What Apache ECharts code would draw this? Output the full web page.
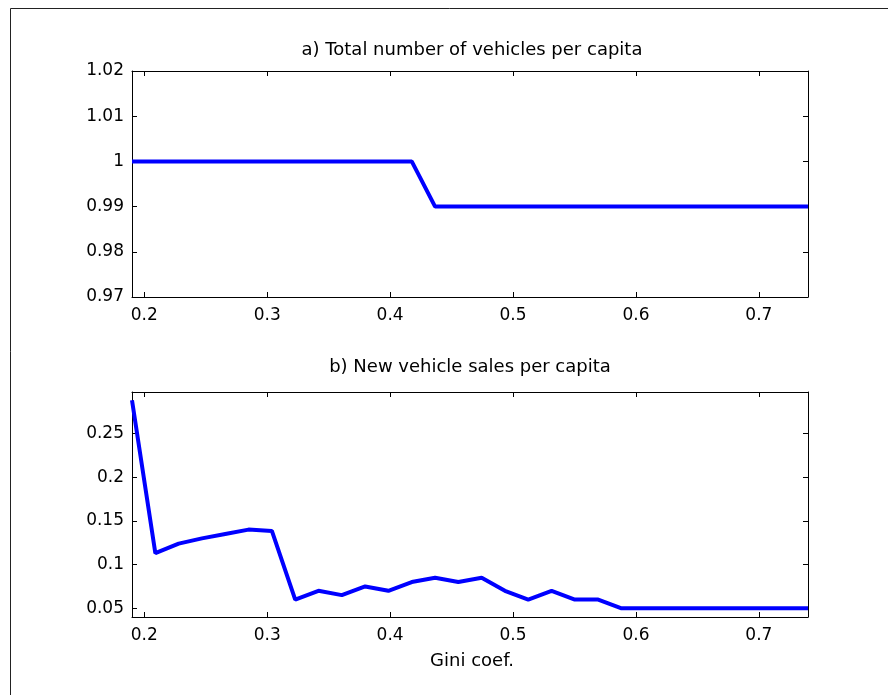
<!DOCTYPE html>
<html>
<head>
<meta charset="utf-8">
<script src="https://cdn.jsdelivr.net/npm/echarts@6/dist/echarts.min.js"></script>
<style>html,body{margin:0;padding:0;background:#fff}#c{width:888px;height:695px}</style>
</head>
<body>
<div id="c"></div>
<script>
// Gini coefficient grid (x values)
var gini = [0.19, 0.209, 0.228, 0.2469, 0.2659, 0.2848, 0.3038, 0.3228, 0.3417, 0.3607,
            0.3797, 0.3986, 0.4176, 0.4366, 0.4555, 0.4745, 0.4934, 0.5124, 0.5314, 0.5503,
            0.5693, 0.5883, 0.6072, 0.6262, 0.6452, 0.6641, 0.6831, 0.7021, 0.721, 0.74];
// a) Total number of vehicles per capita
var totalVehicles = [1, 1, 1, 1, 1, 1, 1, 1, 1, 1, 1, 1, 1,
                     0.99, 0.99, 0.99, 0.99, 0.99, 0.99, 0.99, 0.99, 0.99, 0.99,
                     0.99, 0.99, 0.99, 0.99, 0.99, 0.99, 0.99];
// b) New vehicle sales per capita
var newSales = [0.288, 0.113, 0.124, 0.130, 0.135, 0.140, 0.1385, 0.060, 0.070, 0.065,
                0.075, 0.070, 0.080, 0.085, 0.080, 0.085, 0.070, 0.060, 0.070, 0.060,
                0.060, 0.050, 0.050, 0.050, 0.050, 0.050, 0.050, 0.050, 0.050, 0.050];
var xTicks = [0.2, 0.3, 0.4, 0.5, 0.6, 0.7];
var yTicksTop = [0.97, 0.98, 0.99, 1, 1.01, 1.02];
var yTicksBottom = [0.05, 0.1, 0.15, 0.2, 0.25];
var titleA = 'a) Total number of vehicles per capita';
var titleB = 'b) New vehicle sales per capita';
var xName = 'Gini coef.';

var FONT = '"DejaVu Sans", "Liberation Sans", Arial, sans-serif';
var fmt = function (v) { return String(+(+v).toFixed(4)); };

function xAx(grid, pos, labels) {
  return {
    type: 'value', gridIndex: grid, position: pos, min: 0.19, max: 0.74,
    axisLine: { show: true, onZero: false, lineStyle: { color: '#000', width: 1 } },
    axisTick: { show: true, inside: true, length: 5, customValues: xTicks, lineStyle: { color: '#000' } },
    axisLabel: { show: labels, customValues: xTicks, formatter: fmt, fontFamily: FONT, fontSize: 17, color: '#000', margin: 10 },
    splitLine: { show: false }
  };
}
function yAx(grid, pos, labels, min, max, ticks) {
  return {
    type: 'value', gridIndex: grid, position: pos, min: min, max: max,
    axisLine: { show: true, onZero: false, lineStyle: { color: '#000', width: 1 } },
    axisTick: { show: true, inside: true, length: 5, customValues: ticks, lineStyle: { color: '#000' } },
    axisLabel: { show: labels, customValues: ticks, formatter: fmt, fontFamily: FONT, fontSize: 17, color: '#000', margin: 8 },
    splitLine: { show: false }
  };
}

var chart = echarts.init(document.getElementById('c'), null, { renderer: 'canvas' });
var tStyle = { fontFamily: FONT, fontSize: 18, fontWeight: 'normal', color: '#000' };
chart.setOption({
  animation: false,
  backgroundColor: '#fff',
  title: [
    { text: titleA, left: 467, top: 36, textAlign: 'center', textStyle: tStyle },
    { text: titleB, left: 465, top: 353, textAlign: 'center', textStyle: tStyle },
    { text: xName, left: 467, top: 647, textAlign: 'center', textStyle: tStyle }
  ],
  grid: [
    { left: 132, top: 71, width: 676, height: 226 },
    { left: 132, top: 392, width: 676, height: 225 }
  ],
  xAxis: [xAx(0, 'bottom', true), xAx(0, 'top', false), xAx(1, 'bottom', true), xAx(1, 'top', false)],
  yAxis: [
    yAx(0, 'left', true, 0.97, 1.02, yTicksTop), yAx(0, 'right', false, 0.97, 1.02, yTicksTop),
    yAx(1, 'left', true, 0.04, 0.2975, yTicksBottom), yAx(1, 'right', false, 0.04, 0.2975, yTicksBottom)
  ],
  series: [
    { type: 'line', xAxisIndex: 0, yAxisIndex: 0, showSymbol: false, symbol: 'none',
      data: gini.map(function (g, i) { return [g, totalVehicles[i]]; }),
      lineStyle: { color: '#0000ff', width: 4 }, itemStyle: { color: '#0000ff' } },
    { type: 'line', xAxisIndex: 2, yAxisIndex: 2, showSymbol: false, symbol: 'none',
      data: gini.map(function (g, i) { return [g, newSales[i]]; }),
      lineStyle: { color: '#0000ff', width: 4 }, itemStyle: { color: '#0000ff' } }
  ],
  graphic: [
    { type: 'line', shape: { x1: 10.5, y1: 8.5, x2: 888, y2: 8.5 }, style: { stroke: '#222', lineWidth: 1 }, silent: true },
    { type: 'line', shape: { x1: 10.5, y1: 8.5, x2: 10.5, y2: 695 }, style: { stroke: '#222', lineWidth: 1 }, silent: true }
  ]
});
</script>
</body>
</html>
